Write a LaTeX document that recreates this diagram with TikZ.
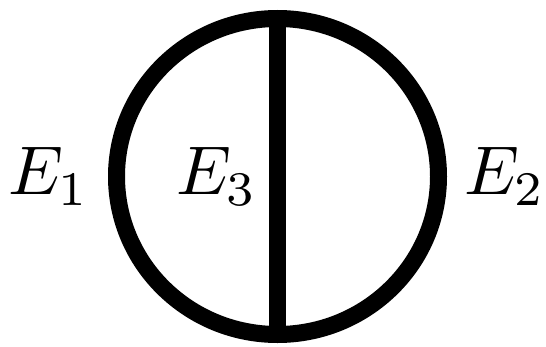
\documentclass[tikz,border=0pt]{standalone}
\usetikzlibrary{shapes.geometric}
\begin{document}
\begin{tikzpicture}[x=1pt,y=1pt,
  ring/.style={draw=black,line width=17pt,ellipse,inner sep=0pt,outer sep=0pt,minimum width=322pt,minimum height=316pt},
  lab/.style={anchor=base,scale=6.9,inner sep=0pt}]
\useasboundingbox (0,0) rectangle (546,346);
\node[ring] (c) at (277.5,169.5) {};
\draw[line width=17pt] (c.north) -- (c.south);
\node[lab] (e1) at (49,151) {$E_1$};
\node[lab] (e3) at (217,151) {$E_3$};
\node[lab] (e2) at (505,151) {$E_2$};
\end{tikzpicture}
\end{document}
